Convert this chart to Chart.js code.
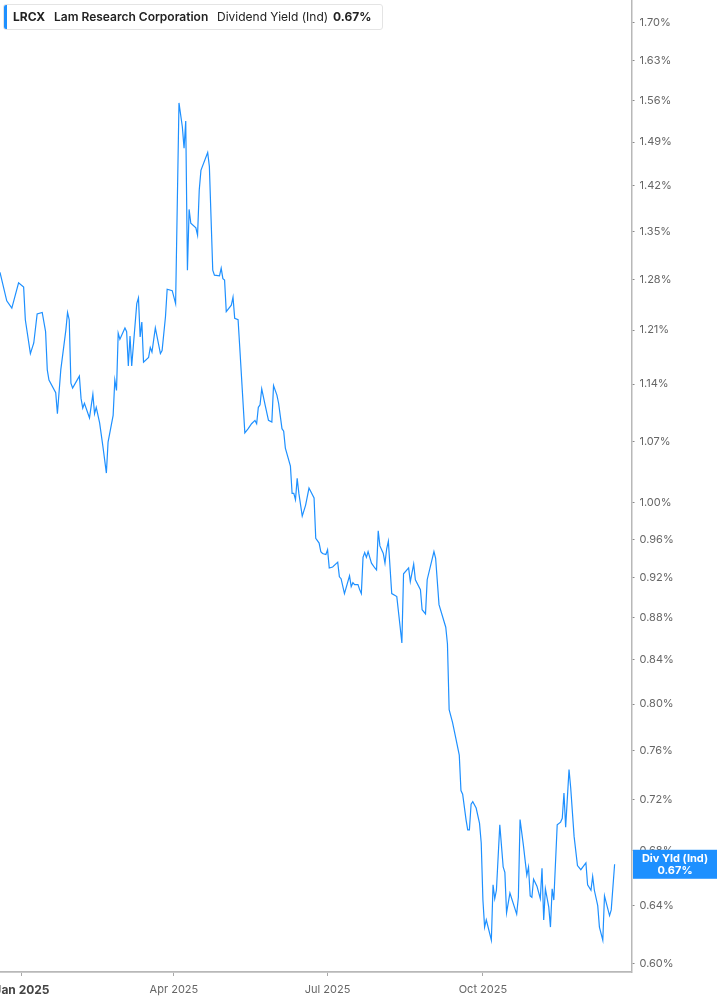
<!DOCTYPE html>
<html>
<head>
<meta charset="utf-8">
<script src="https://cdn.jsdelivr.net/npm/chart.js@4.4.1/dist/chart.umd.min.js"></script>
<style>
  html, body { margin:0; padding:0; background:#fff; overflow:hidden; width:717px; height:1005px; }
  #wrap { position:absolute; left:-40px; top:0; width:757px; height:1005px; }
  #legend { position:absolute; left:3px; top:4px; width:380px; height:26px; border:1px solid #e4e4e4; border-radius:3px; background:#fff;
            font-family:Inter, 'Noto Sans', sans-serif; font-size:12px; color:#222; box-sizing:border-box; }
  #legend .bar { position:absolute; left:0; top:0; width:3px; height:24px; background:#1e90ff; border-radius:2px 0 0 2px; }
  #legend span { position:absolute; top:4px; white-space:nowrap; }
</style>
</head>
<body>
<div id="wrap"><canvas id="c" width="757" height="1005" style="width:757px;height:1005px"></canvas></div>
<div id="legend">
  <div class="bar"></div>
  <span style="left:9px;font-weight:700">LRCX</span>
  <span style="left:50px;font-weight:600">Lam Research Corporation</span>
  <span style="left:213px;font-weight:400">Dividend Yield (Ind)</span>
  <span style="left:329px;font-weight:700">0.67%</span>
</div>
<script>
// days since 2025-01-01
const daysSinceJan1 = [
  -13,-9,-6,-2,1,2,5,7,9,12,
  14,15,16,20,21,23,26,27,28,29,
  30,34,35,36,37,40,42,43,44,46,
  48,50,51,54,55,56,57,58,61,62,
  63,64,65,68,69,70,71,72,75,76,
  77,79,82,83,85,86,89,91,93,95,
  96,97,98,99,100,103,104,105,106,110,
  111,113,114,117,118,119,120,121,124,125,
  126,128,129,132,134,136,138,139,140,141,
  142,144,146,148,149,151,152,154,155,156,
  159,160,161,162,163,164,166,168,170,173,
  174,176,177,178,180,181,182,184,187,188,
  189,191,194,195,196,197,199,200,201,202,
  203,204,205,207,209,210,211,212,214,215,
  216,217,219,221,222,224,225,226,229,230,
  232,233,236,237,239,240,244,245,247,251,
  252,253,255,257,259,260,261,263,264,265,
  266,267,269,271,272,273,274,275,278,279,
  280,281,283,285,286,287,289,293,294,295,
  297,299,300,301,302,303,305,307,308,309,
  310,312,313,314,315,317,319,320,321,322,
  324,325,327,329,331,334,335,337,338,339,
  341,342,344,345,348,349,351
];
const dividendYield = [
  1.29,1.25,1.24,1.275,1.269,1.224,1.179,1.193,1.232,1.234,
  1.208,1.158,1.145,1.129,1.103,1.158,1.210,1.234,1.224,1.141,
  1.135,1.150,1.122,1.110,1.116,1.098,1.127,1.103,1.111,1.092,
  1.063,1.033,1.069,1.101,1.145,1.132,1.206,1.198,1.213,1.208,
  1.163,1.202,1.163,1.246,1.254,1.201,1.221,1.168,1.174,1.187,
  1.181,1.213,1.179,1.183,1.228,1.266,1.264,1.246,1.556,1.515,
  1.480,1.525,1.293,1.383,1.362,1.355,1.344,1.413,1.444,1.473,
  1.450,1.293,1.286,1.285,1.296,1.281,1.279,1.235,1.244,1.255,
  1.226,1.224,1.187,1.080,1.085,1.091,1.095,1.091,1.111,1.114,
  1.134,1.114,1.095,1.093,1.138,1.126,1.116,1.085,1.082,1.062,
  1.041,1.010,1.010,1.003,1.027,1.010,0.985,0.997,1.016,1.005,
  0.961,0.956,0.947,0.945,0.944,0.949,0.930,0.931,0.936,0.921,
  0.919,0.904,0.922,0.911,0.915,0.913,0.913,0.908,0.904,0.941,
  0.946,0.941,0.947,0.935,0.930,0.928,0.969,0.953,0.945,0.935,
  0.950,0.958,0.904,0.902,0.901,0.871,0.856,0.924,0.930,0.916,
  0.934,0.918,0.908,0.888,0.884,0.918,0.947,0.940,0.893,0.871,
  0.855,0.795,0.784,0.770,0.756,0.727,0.724,0.704,0.696,0.696,
  0.716,0.718,0.713,0.701,0.686,0.644,0.625,0.630,0.616,0.655,
  0.645,0.651,0.700,0.668,0.664,0.635,0.649,0.634,0.646,0.704,
  0.684,0.662,0.668,0.647,0.646,0.659,0.654,0.645,0.667,0.630,
  0.652,0.639,0.625,0.652,0.644,0.700,0.702,0.705,0.725,0.698,
  0.744,0.729,0.691,0.669,0.666,0.671,0.655,0.651,0.661,0.651,
  0.640,0.625,0.616,0.647,0.633,0.637,0.670
];
const xTickDays = [0, 90, 181, 273];
const xTickLabels = ['Jan 2025', 'Apr 2025', 'Jul 2025', 'Oct 2025'];
const yTickValues = [0.60,0.64,0.68,0.72,0.76,0.80,0.84,0.88,0.92,0.96,1.00,1.07,1.14,1.21,1.28,1.35,1.42,1.49,1.56,1.63,1.70];
const lastLabelTitle = 'Div Yld (Ind)';
const lastLabelValue = '0.67%';

const FONT = 'Inter, "Noto Sans", sans-serif';
const BLUE = '#1e90ff';

const lastBox = {
  id: 'lastBox',
  afterDraw(chart) {
    const c = chart.ctx, ca = chart.chartArea, y = chart.scales.y;
    const last = dividendYield[dividendYield.length - 1];
    const py = y.getPixelForValue(last);
    const x0 = ca.right + 1.5, x1 = chart.width;
    c.save();
    c.fillStyle = BLUE;
    c.fillRect(x0, py - 14.5, x1 - x0, 29);
    c.fillStyle = '#fff';
    c.font = 'bold 11px ' + FONT;
    c.textAlign = 'center';
    c.textBaseline = 'middle';
    const cx = (x0 + x1) / 2;
    c.fillText(lastLabelTitle, cx, py - 6);
    c.fillText(lastLabelValue, cx, py + 6);
    c.restore();
  }
};

new Chart(document.getElementById('c'), {
  type: 'line',
  data: {
    datasets: [{
      data: daysSinceJan1.map((d, i) => ({ x: d, y: dividendYield[i] })),
      borderColor: BLUE,
      borderWidth: 1.2,
      pointRadius: 0,
      tension: 0,
      fill: false
    }]
  },
  options: {
    responsive: false,
    animation: false,
    layout: { padding: { left: 40, right: 0, top: 0, bottom: 0 } },
    plugins: { legend: { display: false }, tooltip: { enabled: false } },
    scales: {
      x: {
        type: 'linear',
        min: -13,
        max: 361,
        afterBuildTicks: s => { s.ticks = xTickDays.map(v => ({ value: v })); },
        afterFit: s => { s.height = 33; s.paddingLeft = 0; s.paddingRight = 0; },
        grid: { drawOnChartArea: false, drawTicks: true, tickLength: 4, color: '#a8a8a8' },
        border: { display: true, color: '#b8b8b8', width: 1.8 },
        ticks: {
          autoSkip: false, maxRotation: 0, padding: 7,
          color: c => c.index === 0 ? '#444' : '#666',
          font: c => ({ family: FONT, size: c.index === 0 ? 12 : 11, weight: c.index === 0 ? 'bold' : 'normal' }),
          callback: (v, i) => xTickLabels[i]
        }
      },
      y: {
        type: 'logarithmic',
        position: 'right',
        min: 0.5947,
        max: 1.7437,
        afterBuildTicks: s => { s.ticks = yTickValues.map(v => ({ value: v })); },
        afterFit: s => { s.width = 85.5; s.paddingTop = 0; s.paddingBottom = 0; },
        grid: { drawOnChartArea: false, drawTicks: true, tickLength: 3, color: '#888' },
        border: { display: true, color: '#b8b8b8', width: 1.5 },
        ticks: {
          autoSkip: false, padding: 5, color: '#666',
          font: { family: FONT, size: 11 },
          callback: v => Number(v).toFixed(2) + '%'
        }
      }
    }
  },
  plugins: [lastBox]
});
</script>
</body>
</html>
